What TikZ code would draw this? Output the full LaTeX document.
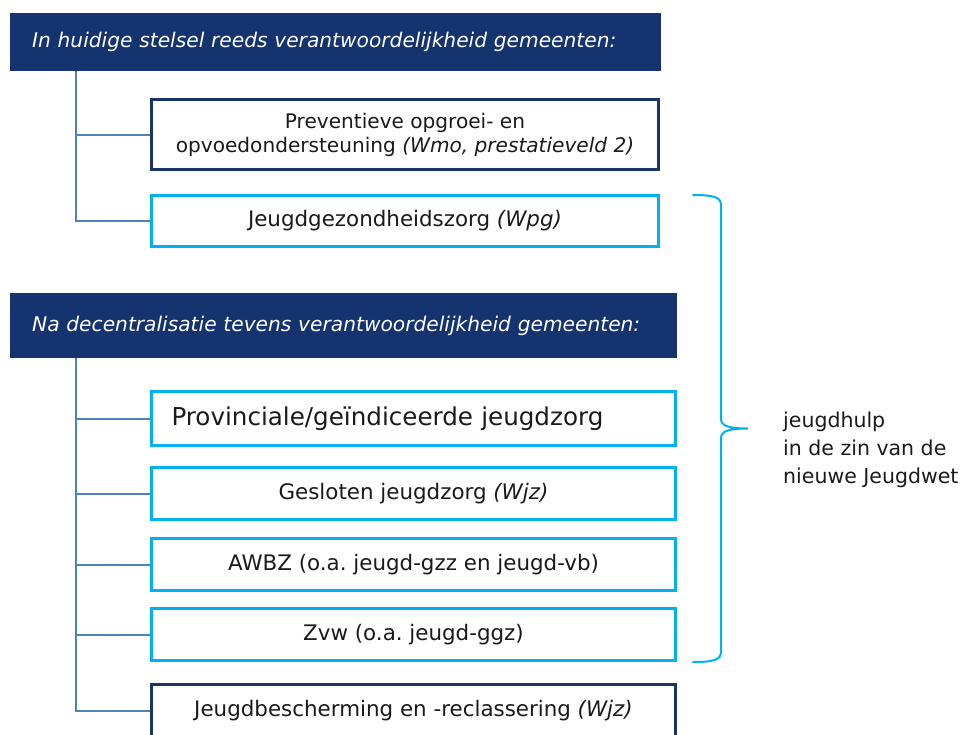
\documentclass[tikz,border=0pt]{standalone}
\usepackage{fontspec}
\setmainfont{DejaVu Sans}
\usepackage{xcolor}
\usepackage{tikz}
\usetikzlibrary{positioning,calc}
\frenchspacing
\definecolor{navy}{RGB}{21,51,111}
\definecolor{darkline}{RGB}{27,52,104}
\definecolor{cyanline}{RGB}{0,176,240}
\definecolor{trunkline}{RGB}{79,129,189}
\definecolor{inkgray}{RGB}{26,26,26}
\tikzset{
  header/.style={fill=navy,text=white,anchor=north west,inner xsep=22pt,
    text width=#1,align=left,font=\fontsize{20.2}{24}\selectfont\itshape},
  unit/.style={draw=#1,line width=3pt,fill=white,align=center,text=inkgray,
    font=\fontsize{21.4}{25}\selectfont},
  narrow/.style={minimum width=507pt},
  wide/.style={minimum width=524pt,minimum height=52pt},
  trunk/.style={draw=trunkline,line width=2pt},
  brace/.style={draw=cyanline,line width=2pt,line cap=round},
  note/.style={align=left,inner sep=0pt,text=inkgray,
    font=\fontsize{20.5}{28}\selectfont}
}
\begin{document}
\begin{tikzpicture}[x=1pt,y=-1pt]
  \clip (0,0) rectangle (961,734);
  % current tasks
  \node[header=607pt,minimum height=58pt] (now) at (10,13) {In huidige stelsel reeds verantwoordelijkheid gemeenten:};
  \node[unit=darkline,narrow,minimum height=70pt,font=\fontsize{20.1}{24}\selectfont] (prev) at (405,134.5) {Preventieve opgroei- en\\opvoedondersteuning \textit{(Wmo, prestatieveld 2)}};
  \node[unit=cyanline,narrow,minimum height=51pt] (jgz) at (405,221) {Jeugdgezondheidszorg \textit{(Wpg)}};
  \draw[trunk] ([xshift=66pt]now.south west) |- (prev.west);
  \draw[trunk] ([xshift=66pt]now.south west) |- (jgz.west);
  % after decentralisation
  \node[header=623pt,minimum height=65pt] (later) at (10,293) {Na decentralisatie tevens verantwoordelijkheid gemeenten:};
  \node[unit=cyanline,wide,minimum height=54pt,text width=484pt,inner xsep=20pt,align=left,
    font=\fontsize{24.6}{28}\selectfont] (prov) at (413.5,418.5) {Provinciale/geïndiceerde jeugdzorg};
  \node[unit=cyanline,wide] (gesl) at (413.5,493.5) {Gesloten jeugdzorg \textit{(Wjz)}};
  \node[unit=cyanline,wide] (awbz) at (413.5,564.5) {AWBZ (o.a. jeugd-gzz en jeugd-vb)};
  \node[unit=cyanline,wide] (zvw) at (413.5,634.5) {Zvw (o.a. jeugd-ggz)};
  \node[unit=darkline,wide] (jb) at (413.5,710.5) {Jeugdbescherming en -reclassering \textit{(Wjz)}};
  \foreach \n in {prov,gesl,awbz,zvw,jb}
    \draw[trunk] ([xshift=66pt]later.south west) |- (\n.west);
  % brace
  \coordinate (btop) at (693,195);
  \coordinate (bbot) at (693,662);
  \coordinate (btip) at (748,428.5);
  \draw[brace] (btop) .. controls (713,195) and (721,197) .. (721,205) -- (721,419)
    .. controls (721,426) and (729,428.5) .. (btip)
    .. controls (729,428.5) and (721,431) .. (721,438) -- (721,652)
    .. controls (721,660) and (713,662) .. (bbot);
  \node[note,anchor=west] (help) at (783,450) {jeugdhulp\\in de zin van de\\nieuwe Jeugdwet};
\end{tikzpicture}
\end{document}
